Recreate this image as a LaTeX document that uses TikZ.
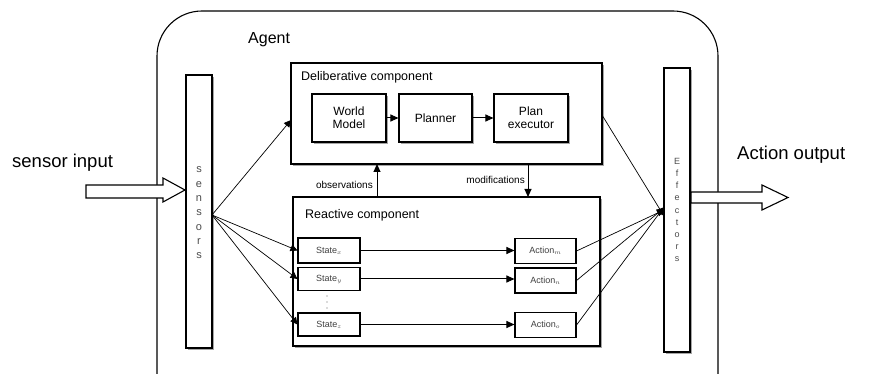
\documentclass[tikz,border=0pt]{standalone}
\usepackage{fontspec}
\setmainfont{Liberation Sans}
\usetikzlibrary{arrows.meta}
\begin{document}
\begin{tikzpicture}[x=1pt,y=-1pt,
  box/.style={draw,line width=1.3pt,fill=white},
  smallbox/.style={draw,line width=1.1pt,fill=white},
  shade/.style={fill=black!35,draw=none},
  link/.style={line width=0.7pt,-{Triangle[length=7pt,width=7pt]}},
  flow/.style={line width=1pt,-{Triangle[length=8pt,width=7pt]}},
  hollow/.style={draw,line width=1.1pt,fill=white},
  lbl/.style={inner sep=0pt,anchor=west},
  vtext/.style={align=center,inner sep=0pt,text=black!70}]
\useasboundingbox (0,0) rectangle (876,374);
\fill[white] (0,0) rectangle (876,374);

% agent boundary (runs past the lower edge)
\begin{scope}
\clip (0,0) rectangle (876,374);
\draw[line width=1.1pt,rounded corners=45pt] (157,11) rectangle (718,420);
\end{scope}
\node[lbl,font=\fontsize{16}{18}\selectfont] (agent) at (248,40) {Agent};

% sensor and effector bars
\fill[shade] (188,77) rectangle (214,350);
\path[box] (186,75) rectangle (212,348);
\node[vtext,font=\fontsize{11}{14.3}\selectfont] (sens) at (199,213) {s\\e\\n\\s\\o\\r\\s};
\coordinate (sout) at (212,215);
\fill[shade] (666,70) rectangle (692,354);
\path[box] (664,68) rectangle (690,352);
\node[vtext,font=\fontsize{9}{12.2}\selectfont] (eff) at (677,210) {E\\f\\f\\e\\c\\t\\o\\r\\s};
\coordinate (ein) at (664,210);

% deliberative layer
\fill[shade] (293,65) rectangle (604,166);
\path[box] (291,63) rectangle (602,164);
\node[lbl,font=\fontsize{12.5}{14}\selectfont] (dlbl) at (301,77) {Deliberative component};
\coordinate (dl) at (291,120);
\coordinate (dr) at (602,115);
\tikzset{inner/.style={smallbox,minimum height=48pt,align=center,font=\fontsize{12}{13}\selectfont}}
\fill[shade] (314,96) rectangle (388,144);
\fill[shade] (401,96) rectangle (474,144);
\fill[shade] (496,96) rectangle (570,144);
\node[inner,minimum width=74pt] (wm) at (349,118) {World\\Model};
\node[inner,minimum width=73pt] (pl) at (435.5,118) {Planner};
\node[inner,minimum width=74pt] (pe) at (531,118) {Plan\\executor};
\draw[flow] (wm) -- (pl);
\draw[flow] (pl) -- (pe);

% reactive layer
\fill[shade] (295,199) rectangle (602,348);
\path[box] (293,197) rectangle (600,346);
\node[lbl,font=\fontsize{12.5}{14}\selectfont] (rlbl) at (305,215) {Reactive component};
\tikzset{sbox/.style={smallbox,minimum width=62pt,minimum height=25pt,font=\fontsize{9}{10}\selectfont,text=black!75}}
\node[sbox] (s1) at (329,250.5) {State$_x$};
\node[sbox,minimum height=23pt] (s2) at (329,279) {State$_y$};
\node[sbox,minimum height=23pt] (s3) at (329,324.5) {State$_z$};
\node[sbox,minimum width=61pt] (a1) at (545.5,251) {Action$_m$};
\node[sbox,minimum width=61pt] (a2) at (545.5,280.5) {Action$_n$};
\node[sbox,minimum width=61pt] (a3) at (545.5,325) {Action$_o$};
\foreach \yy in {296,302,308} \fill[black!60] (327,\yy) circle (0.7pt);
\draw[flow] (s1) -- (a1.west |- s1);
\draw[flow] (s2) -- (a2.west |- s2);
\draw[flow] (s3) -- (a3.west |- s3);

% exchange between the layers
\coordinate (obsfoot) at (377,197);
\coordinate (obshead) at (377,164);
\coordinate (modtop) at (528,164);
\coordinate (modfoot) at (528,197);
\draw[flow] (obsfoot) -- (obshead);
\draw[flow] (modtop) -- (modfoot);
\node[inner sep=0pt,anchor=east,font=\fontsize{10}{11}\selectfont] (obs) at (373,185) {observations};
\node[inner sep=0pt,anchor=east,font=\fontsize{10}{11}\selectfont] (mod) at (525,180) {modifications};

% sensor fan-out
\draw[link] (sout) -- (dl);
\draw[link] (sout) -- (s1.west);
\draw[link] (sout) -- (s2.west);
\draw[link] (sout) -- (s3.west);

% effector fan-in
\draw[link] (dr) -- ([yshift=-6pt]ein);
\draw[link] (a1.east) -- (ein);
\draw[link] (a2.east) -- ([yshift=2pt]ein);
\draw[link] (a3.east) -- ([yshift=3pt]ein);

% outside input and output
\draw[hollow] (86,185) -- (163,185) -- (163,178) -- (185,190) -- (163,202) -- (163,198) -- (86,198) -- cycle;
\node[lbl,font=\fontsize{18.5}{20}\selectfont] (sin) at (12,163) {sensor input};
\draw[hollow] (691,192) -- (762,192) -- (762,185) -- (788,197.5) -- (762,210) -- (762,203) -- (691,203) -- cycle;
\node[lbl,font=\fontsize{18.5}{20}\selectfont] (aout) at (737,155) {Action output};
\end{tikzpicture}
\end{document}
